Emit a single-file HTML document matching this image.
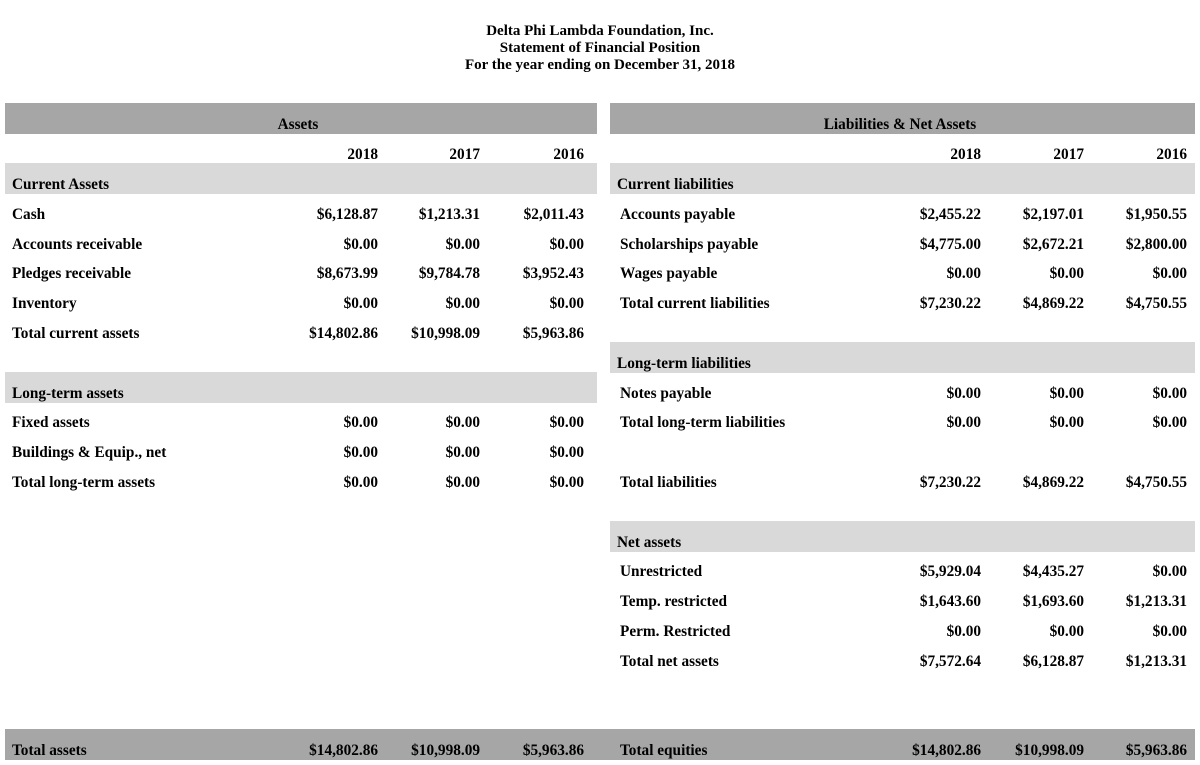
<!DOCTYPE html>
<html><head><meta charset="utf-8">
<style>
html,body{margin:0;padding:0;background:#fff;}
#page{position:relative;width:1200px;height:765px;overflow:hidden;font-family:"Liberation Serif",serif;font-weight:bold;font-size:15.3px;color:#000;}
.t{position:absolute;white-space:nowrap;line-height:18px;}
.bar{position:absolute;}
.title{position:absolute;left:0;width:1200px;text-align:center;line-height:17px;font-size:15px;}
</style></head>
<body>
<div id="page">
<div class="title" style="top:23px">Delta Phi Lambda Foundation, Inc.</div>
<div class="title" style="top:40px">Statement of Financial Position</div>
<div class="title" style="top:57px">For the year ending on December 31, 2018</div>
</div>
<script>
const years = ["2018","2017","2016"];
const leftRows = [
 [0,"Current Assets",null,"light"],
 [1,"Cash",["$6,128.87","$1,213.31","$2,011.43"]],
 [2,"Accounts receivable",["$0.00","$0.00","$0.00"]],
 [3,"Pledges receivable",["$8,673.99","$9,784.78","$3,952.43"]],
 [4,"Inventory",["$0.00","$0.00","$0.00"]],
 [5,"Total current assets",["$14,802.86","$10,998.09","$5,963.86"]],
 [7,"Long-term assets",null,"light"],
 [8,"Fixed assets",["$0.00","$0.00","$0.00"]],
 [9,"Buildings & Equip., net",["$0.00","$0.00","$0.00"]],
 [10,"Total long-term assets",["$0.00","$0.00","$0.00"]],
 [19,"Total assets",["$14,802.86","$10,998.09","$5,963.86"]]
];
const rightRows = [
 [0,"Current liabilities",null,"light"],
 [1,"Accounts payable",["$2,455.22","$2,197.01","$1,950.55"]],
 [2,"Scholarships payable",["$4,775.00","$2,672.21","$2,800.00"]],
 [3,"Wages payable",["$0.00","$0.00","$0.00"]],
 [4,"Total current liabilities",["$7,230.22","$4,869.22","$4,750.55"]],
 [6,"Long-term liabilities",null,"light"],
 [7,"Notes payable",["$0.00","$0.00","$0.00"]],
 [8,"Total long-term liabilities",["$0.00","$0.00","$0.00"]],
 [10,"Total liabilities",["$7,230.22","$4,869.22","$4,750.55"]],
 [12,"Net assets",null,"light"],
 [13,"Unrestricted",["$5,929.04","$4,435.27","$0.00"]],
 [14,"Temp. restricted",["$1,643.60","$1,693.60","$1,213.31"]],
 [15,"Perm. Restricted",["$0.00","$0.00","$0.00"]],
 [16,"Total net assets",["$7,572.64","$6,128.87","$1,213.31"]],
 [19,"Total equities",["$14,802.86","$10,998.09","$5,963.86"]]
];
const page = document.getElementById('page');
function rowY(r){ return 184 + 29.8*r; }
function bar(x,r,w,color,name){
  const b=document.createElement('div');
  b.className='bar';
  b.style.left=x+'px'; b.style.top=(rowY(r)-21)+'px'; b.style.width=w+'px'; b.style.height='31px'; b.style.background=color;
  
  
  page.appendChild(b);
}
function text(str,x,r,align,name){
  const d=document.createElement('div');
  d.className='t';
  d.textContent=str;
  d.style.top=(rowY(r)-8)+'px';
  if(align==='right'){ d.style.right=(1200-x)+'px'; } else if(align==='center'){ d.style.left=(x-150)+'px'; d.style.width='300px'; d.style.textAlign='center'; } else { d.style.left=x+'px'; }
  
  
  page.appendChild(d);
}
bar(5,-2,592,'#a6a6a6','assets-header-bar');
bar(610,-2,585,'#a6a6a6','liabilities-header-bar');
bar(5,19,1190,'#a6a6a6','totals-bar');
leftRows.forEach(r=>{ if(r[3]) bar(5,r[0],592,'#d9d9d9','left-section-bar'); });
rightRows.forEach(r=>{ if(r[3]) bar(610,r[0],585,'#d9d9d9','right-section-bar'); });
text("Assets",298,-2,'center','assets-header');
text("Liabilities & Net Assets",900,-2,'center','liabilities-header');
const lCols=[378,480,584], rCols=[981,1084,1187];
years.forEach((y,i)=>{ text(y,lCols[i],-1,'right','left-year-'+y); text(y,rCols[i],-1,'right','right-year-'+y); });
leftRows.forEach(r=>{
  text(r[1],12,r[0],'left','left-label');
  if(r[2]) r[2].forEach((v,i)=>text(v,lCols[i],r[0],'right','left-value'));
});
rightRows.forEach(r=>{
  text(r[1], r[3]?617:620, r[0],'left','right-label');
  if(r[2]) r[2].forEach((v,i)=>text(v,rCols[i],r[0],'right','right-value'));
});
</script>
</body></html>
